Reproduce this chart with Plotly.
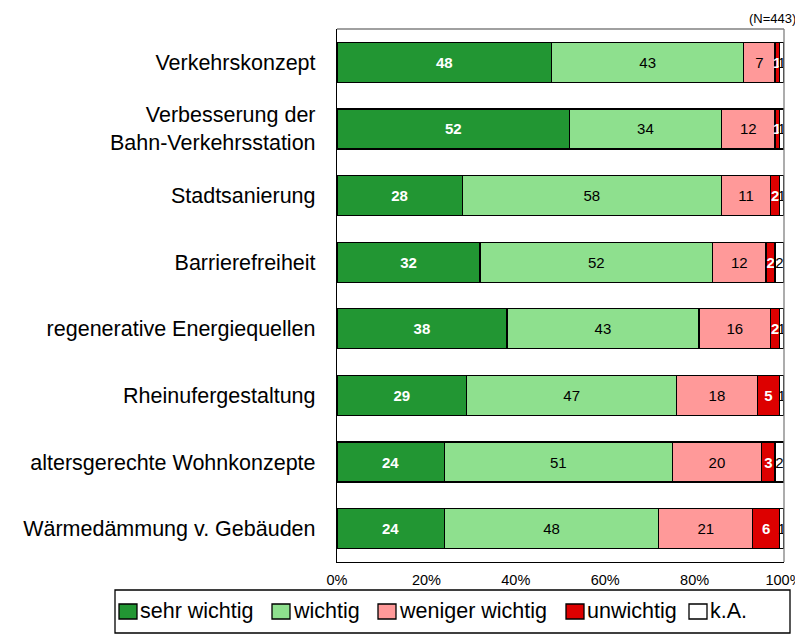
import plotly.graph_objects as go

categories = [
    "Verkehrskonzept",
    "Verbesserung der<br>Bahn-Verkehrsstation",
    "Stadtsanierung",
    "Barrierefreiheit",
    "regenerative Energiequellen",
    "Rheinufergestaltung",
    "altersgerechte Wohnkonzepte",
    "Wärmedämmung v. Gebäuden",
]
sehr_wichtig = [48, 52, 28, 32, 38, 29, 24, 24]
wichtig = [43, 34, 58, 52, 43, 47, 51, 48]
weniger_wichtig = [7, 12, 11, 12, 16, 18, 20, 21]
unwichtig = [1, 1, 2, 2, 2, 5, 3, 6]
k_a = [1, 1, 1, 2, 1, 1, 2, 1]
series_names = ["sehr wichtig", "wichtig", "weniger wichtig", "unwichtig", "k.A."]
tick_vals = [0, 20, 40, 60, 80, 100]
tick_text = ["0%", "20%", "40%", "60%", "80%", "100%"]
n_note = "(N=443)"

series = [sehr_wichtig, wichtig, weniger_wichtig, unwichtig, k_a]
colors = ["#229633", "#8EE08E", "#FF9999", "#DD0000", "#FFFFFF"]
text_colors = ["white", "black", "black", "white", "black"]
text_bold = [True, False, False, True, False]

FONT = "Arial, 'Liberation Sans', sans-serif"
OFF = 8
PAGE_W, PAGE_H = 803, 639
W, H = PAGE_W - OFF, PAGE_H - OFF
PL, PR, PT, PB = 337, 784, 29, 562
L, R, T, B = PL - OFF, PAGE_W - PR, PT - OFF, PAGE_H - PB
PW, PH = PR - PL, PB - PT


def px(x):
    return (x - PL) / PW


def py(y):
    return (PB - y) / PH


fig = go.Figure()
for name, vals, col, tcol, bold in zip(series_names, series, colors, text_colors, text_bold):
    fig.add_trace(go.Bar(
        y=categories, x=vals, orientation="h", name=name,
        marker=dict(color=col, line=dict(color="black", width=1.3)),
        text=[str(v) for v in vals],
        texttemplate="<b>%{text}</b>" if bold else "%{text}",
        textposition="inside", insidetextanchor="middle",
        constraintext="none", textangle=0,
        textfont=dict(family=FONT, size=15, color=tcol),
        width=0.6, showlegend=False,
    ))

fig.update_layout(
    barmode="stack",
    width=W, height=H,
    margin=dict(l=L, r=R, t=T, b=B, autoexpand=False),
    plot_bgcolor="white", paper_bgcolor="white",
    font=dict(family=FONT, color="black"),
    xaxis=dict(range=[0, 100], tickvals=tick_vals, ticktext=tick_text, automargin=False,
               showgrid=False, zeroline=False, showline=True, linecolor="black",
               linewidth=1.3, ticks="", tickfont=dict(size=14.5, color="black"),
               ticklabelstandoff=4),
    yaxis=dict(autorange="reversed", showgrid=False, zeroline=False, showline=True,
               automargin=False,
               linecolor="black", linewidth=1.3, ticks="",
               tickfont=dict(size=21.5, color="black"), ticklabelstandoff=16),
)

fig.add_shape(type="line", xref="paper", yref="paper", x0=0, x1=1, y0=1, y1=1,
              line=dict(color="#808080", width=1.3))
fig.add_shape(type="line", xref="paper", yref="paper", x0=1, x1=1, y0=0, y1=1,
              line=dict(color="#808080", width=1.3))

fig.add_annotation(text=n_note, xref="paper", yref="paper", x=px(798), y=py(19),
                   xanchor="right", yanchor="middle", showarrow=False,
                   font=dict(size=13, color="black"))

fig.add_shape(type="rect", xref="paper", yref="paper", x0=px(115), x1=px(790),
              y0=py(590), y1=py(633), line=dict(color="black", width=1.3),
              fillcolor="white")
sym_x = [119, 272, 378, 566, 689]
for name, col, sx in zip(series_names, colors, sym_x):
    fig.add_shape(type="rect", xref="paper", yref="paper", x0=px(sx), x1=px(sx + 18),
                  y0=py(604), y1=py(619), line=dict(color="black", width=1.3),
                  fillcolor=col)
    fig.add_annotation(text=name, xref="paper", yref="paper", x=px(sx + 19), y=py(611),
                       xanchor="left", yanchor="middle", showarrow=False,
                       font=dict(size=21.5, color="black"))

fig.write_html("out.html")
